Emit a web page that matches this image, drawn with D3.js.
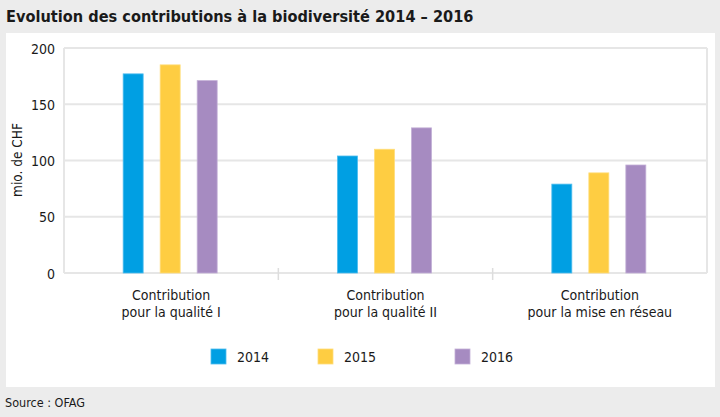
<!DOCTYPE html>
<html><head><meta charset="utf-8">
<script src="https://cdn.jsdelivr.net/npm/d3@7"></script>
<style>
html,body{margin:0;padding:0;background:#ececec;}
svg{display:block;}
text{font-family:"DejaVu Sans Condensed","DejaVu Sans",sans-serif;font-stretch:condensed;fill:#1a1a1a;}
</style></head><body>
<svg id="c" width="720" height="417"></svg>
<script>
const categories = [["Contribution","pour la qualité I"],["Contribution","pour la qualité II"],["Contribution","pour la mise en réseau"]];
const years = ["2014","2015","2016"];
const values2014 = [177, 104, 79];
const values2015 = [185, 110, 89];
const values2016 = [171, 129, 96];
const yTicks = [0, 50, 100, 150, 200];
const colors = ["#009fe3", "#fecd42", "#a68bc1"];
const strokes = ["#4dbcee", "#ffdd7a", "#c3b0d6"];

const series = [values2014, values2015, values2016];
const svg = d3.select("#c");
svg.append("rect").attr("x",0).attr("y",0).attr("width",720).attr("height",417).attr("fill","#ececec");
svg.append("rect").attr("x",6).attr("y",33).attr("width",709).attr("height",354).attr("fill","#ffffff");

svg.append("text").attr("x",6).attr("y",22).attr("font-size",16.2).attr("font-weight","bold")
  .text("Evolution des contributions à la biodiversité 2014 – 2016");
svg.append("text").attr("x",5).attr("y",407).attr("font-size",12.5).text("Source : OFAG");

const pLeft = 64, pRight = 707, pTop = 48, pBottom = 273;
const x0 = d3.scaleBand().domain(d3.range(categories.length)).range([pLeft, pRight]).padding(0);
const x1 = d3.scaleBand().domain(d3.range(years.length)).range([-48, 46]).paddingInner(0.46).paddingOuter(0);
const y = d3.scaleLinear().domain([0, 200]).range([pBottom, pTop]);

const g = svg.append("g");
g.selectAll("line.grid").data(yTicks).enter().append("line")
  .attr("x1", pLeft).attr("x2", pRight).attr("y1", d => y(d)).attr("y2", d => y(d))
  .attr("stroke", "#e6e6e6").attr("stroke-width", 2);
g.append("line").attr("x1",pLeft).attr("x2",pLeft).attr("y1",pTop).attr("y2",pBottom).attr("stroke","#e6e6e6").attr("stroke-width",2);
g.append("line").attr("x1",pRight).attr("x2",pRight).attr("y1",pTop).attr("y2",pBottom).attr("stroke","#e6e6e6").attr("stroke-width",2);
g.selectAll("line.sep").data([1,2]).enter().append("line")
  .attr("x1", d => x0(d)).attr("x2", d => x0(d)).attr("y1", pBottom-5).attr("y2", pBottom+7)
  .attr("stroke", "#dddddd").attr("stroke-width", 1.5);

const yAxis = d3.axisLeft(y).tickValues(yTicks).tickSize(0).tickPadding(0);
const ya = svg.append("g").attr("transform", `translate(${pLeft-9},0)`).call(yAxis);
ya.select(".domain").remove();
ya.selectAll("text").attr("font-size", 14).attr("fill","#1a1a1a").attr("dy","0.36em")
  .style("font-family",'"DejaVu Sans Condensed","DejaVu Sans",sans-serif').style("font-stretch","condensed");

svg.append("text").attr("transform","translate(22,160) rotate(-90)").attr("text-anchor","middle")
  .attr("font-size",13.5).text("mio. de CHF");

series.forEach((vals, si) => {
  g.selectAll("rect.s"+si).data(vals).enter().append("rect")
    .attr("x", (d,i) => x0(i) + x0.bandwidth()/2 + x1(si))
    .attr("width", x1.bandwidth())
    .attr("y", d => y(d))
    .attr("height", d => pBottom - y(d))
    .attr("fill", colors[si])
    .attr("stroke", strokes[si]).attr("stroke-width", 0.8);
});

const xa = svg.append("g");
categories.forEach((lines, i) => {
  const t = xa.append("text").attr("text-anchor","middle").attr("font-size",14);
  lines.forEach((l, j) => {
    t.append("tspan").attr("x", x0(i) + x0.bandwidth()/2).attr("y", 300 + j*17).text(l);
  });
});

const legX = [211, 318, 455];
years.forEach((yr, i) => {
  svg.append("rect").attr("x", legX[i]).attr("y", 349).attr("width", 15).attr("height", 15)
    .attr("fill", colors[i]).attr("stroke", strokes[i]).attr("stroke-width", 0.8);
  svg.append("text").attr("x", legX[i] + 26).attr("y", 362).attr("font-size", 14).text(yr);
});
</script>
</body></html>
